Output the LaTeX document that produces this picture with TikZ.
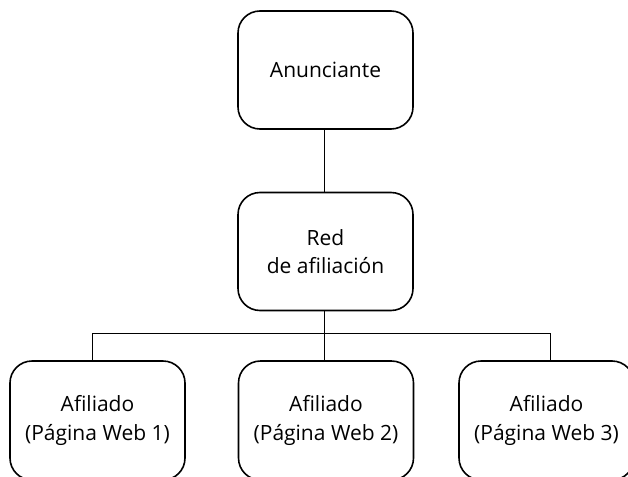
\documentclass[tikz,border=0pt]{standalone}
\usepackage{fontspec}
\setmainfont{Open Sans}
\begin{document}
\begin{tikzpicture}[x=1pt,y=-1pt,
  box/.style={draw=black, line width=1.6pt, rounded corners=22pt,
    minimum width=175pt, minimum height=118pt, align=center,
    font=\fontsize{21}{28.5}\selectfont, text=black, inner sep=0pt},
  link/.style={draw=black, line width=1pt}]
\useasboundingbox (0,0) rectangle (628,476);
\clip (0,0) rectangle (628,476);
\node[box] (anun) at (325.5,70) {Anunciante};
\node[box] (red) at (325.5,251.5) {Red\\de afiliación};
\node[box, minimum height=119pt] (a1) at (97.5,420.5) {Afiliado\\(Página Web 1)};
\node[box, minimum height=119pt] (a2) at (326,420.5) {Afiliado\\(Página Web 2)};
\node[box, minimum height=119pt] (a3) at (546.5,420.5) {Afiliado\\(Página Web 3)};
\coordinate (jl) at (92,333);
\coordinate (jm) at (324,333);
\coordinate (jr) at (550,333);
\draw[link] (anun.south -| jm) -- (red.north -| jm);
\draw[link] (red.south -| jm) -- (jm);
\draw[link] (jl) -- (jr);
\draw[link] (jl) -- (jl |- a1.north);
\draw[link] (jm) -- (jm |- a2.north);
\draw[link] (jr) -- (jr |- a3.north);
\end{tikzpicture}
\end{document}
